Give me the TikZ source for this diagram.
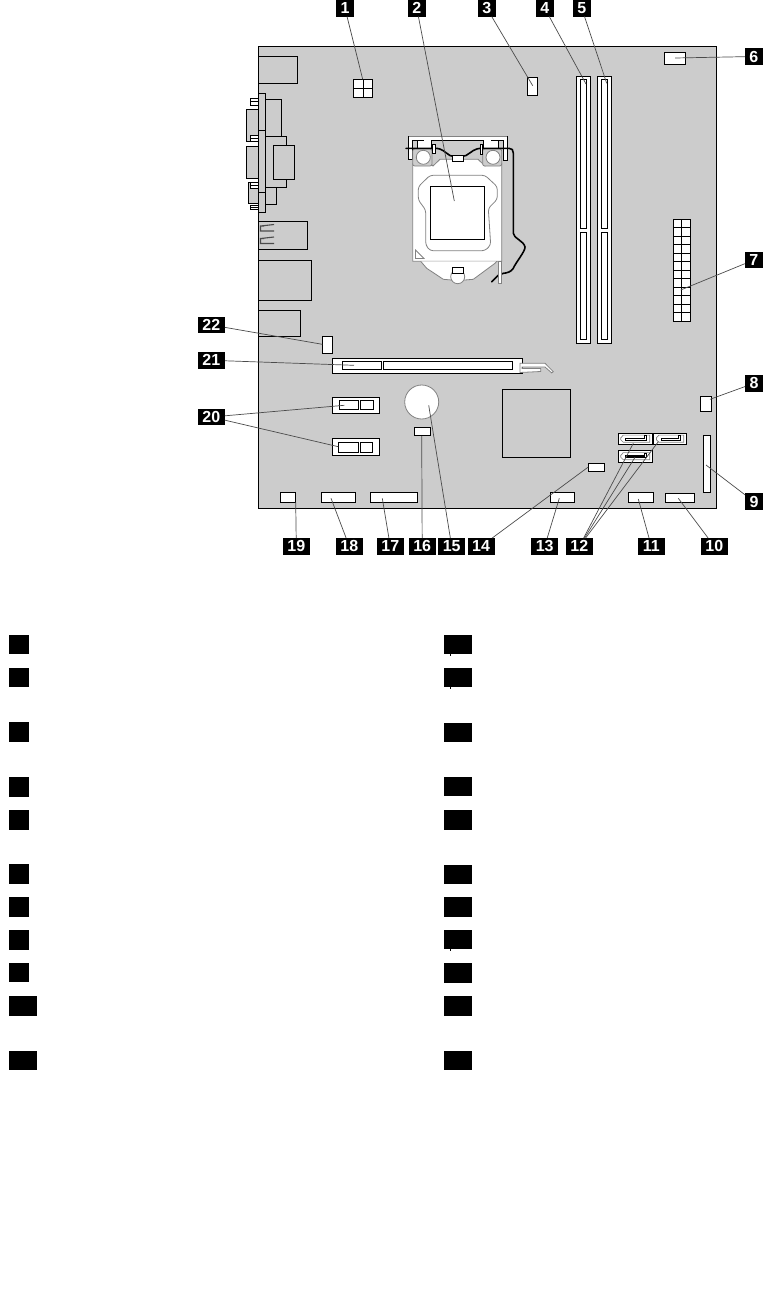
\documentclass[tikz,border=0pt]{standalone}
\usepackage{fontspec}
\setmainfont{Liberation Sans}
\usepackage{xcolor}
\usetikzlibrary{positioning,calc}
\definecolor{boardgrey}{RGB}{204,204,204}
\definecolor{edgegrey}{RGB}{130,130,130}
\definecolor{leadgrey}{RGB}{75,75,75}

\begin{document}
\begin{tikzpicture}[x=1pt, y=-1pt,
    part/.style={draw=black, fill=white, line width=1pt},
    flat/.style={draw=black, fill=boardgrey, line width=1pt},
    soft/.style={draw=edgegrey, fill=white, line width=0.8pt},
    lever/.style={draw=black, line width=1.6pt, line cap=round, line join=round},
    leader/.style={draw=leadgrey, line width=0.7pt},
    badge/.style={rectangle, fill=black, text=white, inner sep=0pt, outer sep=0pt,
        minimum width=18pt, minimum height=16.5pt, font=\fontsize{16}{16}\selectfont\bfseries},
    widebadge/.style={badge, minimum width=27pt},
    blank/.style={rectangle, fill=black, inner sep=0pt, outer sep=0pt, anchor=north west}]
    \useasboundingbox (0,0) rectangle (763,1290);

    % Board and rear ports
    \draw[flat] (246,109.3) rectangle (258.3,141.7);
    \draw[flat] (246,146) rectangle (258.3,178.3);
    \draw[flat] (248.3,182.3) rectangle (258.3,203.3);
    \foreach \ya/\yb in {98.3/105,135.3/141,182.7/188.7,205/209.3} {
        \fill[white] (250,\ya) rectangle (258,\yb);
        \draw[black, line width=0.8pt] (250,\ya) -- (258,\ya) (250,{(\ya+\yb)/2}) -- (258,{(\ya+\yb)/2}) (250,\yb) -- (258,\yb) (250,\ya) -- (250,\yb);
    }
    \draw[flat] (258.5,46.5) rectangle (716.7,508);
    \foreach \xa/\ya/\xb/\yb in {258.5/56.3/297.3/83.3, 265.7/99.3/281.7/136.7, 265.7/136.7/286.7/187.7,
        273.3/145.3/294.7/179.3, 265.7/187.7/276.7/204.7, 258.5/93.3/265.7/212.7, 258.5/130/265.7/192.3,
        258.5/221.3/307.7/249.3, 258.5/260.3/311.7/300.3, 258.5/310.3/300.3/336.3, 502.3/389.3/570.7/457.3} {
        \draw[flat] (\xa,\ya) rectangle (\xb,\yb);
    }
    \foreach \uy in {226,238.5} {
        \draw[leadgrey, line width=1.1pt] (264,\uy+5) -- (260.5,\uy+5) -- (260.5,\uy) -- (264,\uy)
            (260.5,\uy) -- (274,\uy-1.5) (260.5,\uy+5) -- (274,\uy+5);
    }

    % CPU socket
    \fill[white] (408.3,136) rectangle (507.7,140.7) (417.3,140) rectangle (431.7,148) (483.3,140) rectangle (498,148)
        (408.3,136) rectangle (412.3,159.3) (503.3,136) rectangle (507.7,160.7);
    \draw[edgegrey, line width=0.8pt] (408.3,136) -- (507.7,136);
    \draw[black, line width=1pt] (507.7,136) -- (507.7,160.7) -- (503.3,160.7) -- (503.3,140.7) -- (491,140.7)
        (498,140.7) -- (498,148)
        (408.3,136) -- (408.3,159.3) -- (412.3,159.3) -- (412.3,140.7) -- (424,140.7)
        (417.3,140.7) -- (417.3,148)
        (431.7,148) -- (431.7,140.7) -- (483.3,140.7) -- (483.3,148);
    \draw[soft] (412.7,163.3) -- (430,163.3) -- (433,166) -- (440,159.3) -- (478,159.3) -- (485,166)
        -- (490,163.3) -- (501.7,163.3) -- (501.7,261.3) -- (412.7,261.3) -- cycle;
    \draw[soft] (420.7,261.3) -- (426.7,268.3) -- (443.3,279.3) -- (451.7,280) -- (465,280) -- (473.3,279.3)
        -- (495,263.3) -- (496.7,261.3);
    \draw[edgegrey, line width=0.8pt, rounded corners=3pt] (430,175.3) -- (485,175.3) -- (497.3,186.7) -- (497.3,199.3)
        -- (488.3,208.3) -- (490.7,245) -- (485,250.7) -- (430,250.7) -- (425.7,245) -- (425.7,210)
        -- (418.3,200) -- (418.3,186.7) -- cycle;
    \draw[part] (430.3,186.3) rectangle (484.7,239.3);
    \draw[edgegrey, fill=white, line width=0.8pt] (415.5,250) -- (424,258.5) -- (415.5,258.5) -- cycle;
    \draw[edgegrey, fill=boardgrey, line width=0.8pt, rounded corners=2pt] (412.7,149) rectangle (432,166);
    \draw[edgegrey, fill=boardgrey, line width=0.8pt, rounded corners=2pt] (482.7,149) rectangle (501.7,166);
    \foreach \cx/\cy in {423.3/157.3,493/157.3,457.7/276.7} {
        \draw[soft] (\cx,\cy) circle (7);
    }
    \draw[part] (452.3,267.7) rectangle (463.3,273.3);
    \draw[lever] (406,148.3) -- (435,148.3) .. controls (443,148.5) and (444,152) .. (450,155.5)
        .. controls (453,157) and (462,157) .. (466,155.5) .. controls (472,152) and (474,148.3) .. (482,148.3)
        -- (509,148.3) .. controls (512,148.3) and (513.3,150) .. (513.3,153) -- (513.3,233.3)
        .. controls (513.3,238) and (524,241) .. (525,247) .. controls (525.5,251) and (516,262) .. (513.3,268.3)
        .. controls (511,272) and (507,273) .. (503.3,273.3) -- (498,275.5) -- (491.7,281.7);
    \draw[part] (432.3,144.3) rectangle (435.3,153.3);
    \draw[part] (480.3,144.3) rectangle (482.6,154.3);
    \draw[part] (452.3,155.7) rectangle (463.3,161);
    \draw[soft] (498.3,261.3) rectangle (501.7,283.3);

    % Memory slots
    \foreach \sx in {576.3,597.3} {
        \draw[part] (\sx,76.3) rectangle ++(14.4,267);
        \draw[part] (\sx+4,79.3) rectangle (\sx+10.4,228.7);
        \draw[part] (\sx+4,232.3) rectangle (\sx+10.4,339.3);
    }

    % Headers and small connectors
    \foreach \xa/\ya/\xb/\yb in {353.3/79.3/372.7/97.3, 527.3/77.3/537.7/95.7, 664.3/52.3/685.7/64.7,
        673.3/219.3/690.7/321.3, 322.3/336.3/332.7/353.3, 700.3/396/711.7/411.3, 703.3/435.3/710.7/492.7,
        665.3/493.3/694.7/502.7, 628.3/492.3/653.7/502.7, 550.3/492.3/574.7/502.7, 588.3/463.3/604.7/471.7,
        414.3/427/430.7/435.7, 370.3/492.3/417.7/502.3, 321.3/492.3/355.7/502.3, 280.3/492.3/295.7/502.3} {
        \draw[part] (\xa,\ya) rectangle (\xb,\yb);
    }
    \draw[black, line width=1pt] (363,79.3) -- (363,97.3) (353.3,88.3) -- (372.7,88.3) (681.9,219.3) -- (681.9,321.3);
    \foreach \i in {1,...,11} {
        \draw[black, line width=1pt] (673.3,219.3+8.5*\i) -- (690.7,219.3+8.5*\i);
    }

    % Expansion slots
    \draw[part] (332.3,358.3) rectangle (522.7,373.5);
    \draw[part] (342.3,361.3) rectangle (381.7,369.7);
    \draw[part] (383.3,361.3) rectangle (512.7,369.7);
    \draw[soft] (520,363.3) -- (545,363.3) -- (553.3,371.7) -- (551.7,372.9) -- (545,367) -- (522,367) -- (522,368.5)
        -- (540.7,368.5) -- (540.7,371.5) -- (520,372.5) -- cycle;
    \foreach \py/\pq/\pa/\pb/\pc/\pd in {397.3/413.7/339.3/358.7/373.7/400, 438.3/455.3/338.3/358.7/372.7/442.3} {
        \draw[part] (332.3,\py) rectangle (379.7,\pq);
        \draw[part] (\pa,\pd) rectangle (\pb,\pd+9.7);
        \draw[part] (360.3,\pd) rectangle (\pc,\pd+9.7);
    }
    \draw[soft] (421.7,402) circle (17);

    % SATA ports
    \foreach \sx/\sy/\sw in {618.3/433.3/34.4, 653.9/433.3/32.8, 618.3/450.8/34.4} {
        \begin{scope}[shift={(\sx,\sy)}]
            \draw[part] (0,0) rectangle (\sw,11.3);
            \draw[edgegrey, line width=0.7pt] (5,1.8) -- (\sw-3,1.8) -- (\sw-3,9) -- (5,9) -- (2.5,6.5) -- (2.5,4.5) -- cycle;
            \draw[black, line width=1pt, fill=white] (7.5,5) -- (\sw-8,5) -- (\sw-8,2.5) -- (\sw-6.5,2.5) -- (\sw-6.5,7) -- (7.5,7) -- cycle;
        \end{scope}
    }
    \draw[black, line width=1.6pt] (653.2,433.3) -- (653.2,444.6);
    \draw[black, line width=1.6pt] (627,457) -- (645,457);

    % Leader ends
    \foreach \n/\x/\y in {p1/362.7/79.3, p2/454.3/201, p3/532.7/85.7, p4/586/84, p5/606.7/83.3, p6/675/58,
        p7/680.7/290, p8/710/399.3, p9/706/465, p10/678.3/498.3, p11/638.3/499, p12a/633.3/443.3,
        p12b/635/457.3, p12c/658.3/441.7, p13/559.3/498.3, p14/588.3/467, p15/428.7/405.3, p16/421.7/436,
        p17/382.3/498.3, p18/331/498.3, p19/295.7/502.3, p20a/344.3/405.3, p20b/338.3/446.7,
        p21/354/365.3, p22/322.3/344.3} {
        \coordinate (\n) at (\x,\y);
    }

    % Number tags
    \foreach \n/\x/\y in {1/345/8.3, 2/416.8/8.3, 3/486.8/8.3, 4/544.8/8.3, 5/581.8/8.3, 6/753.8/56.5,
        7/753.8/260, 8/754/383.3, 9/754/501.7} {
        \node[badge] (tag\n) at (\x,\y) {\n};
    }
    \foreach \n/\x/\y in {10/714.3/546.3, 11/651.3/546.3, 12/579.3/546.3, 13/544.7/546.3, 14/481/546.3,
        15/451.7/546.3, 16/422.2/546.3, 17/390.3/546.3, 18/349.3/546.3, 19/296.3/546.3,
        20/211.3/417, 21/211.3/360.3, 22/211.3/325} {
        \node[widebadge] (tag\n) at (\x,\y) {\n};
    }
    \foreach \t/\p in {1/p1, 2/p2, 3/p3, 4/p4, 5/p5, 6/p6, 7/p7, 8/p8, 9/p9, 10/p10, 11/p11, 12/p12a, 12/p12b,
        12/p12c, 13/p13, 14/p14, 15/p15, 16/p16, 17/p17, 18/p18, 19/p19, 20/p20a, 20/p20b, 21/p21, 22/p22} {
        \draw[leader] (tag\t) -- (\p);
    }

    % Legend boxes
    \foreach \n/\x/\y/\w/\h in {a/9/635/20/19, b/9/668/20/19, c/9/722/20/20, d/9/777/20/20, e/9/810/20/20,
        f/9/864/20/20, g/9/897/20/20, h/9/930/20/20, i/9/963/20/19, j/9/996/28/20, k/9/1051/28/19,
        l/444/635/28/19, m/444/668/28/19, n/444/723/28/19, o/444/777/28/19, q/444/810/28/20,
        r/444/865/28/19, s/444/897/28/20, t/444/930/28/19, u/444/963/28/20, v/444/996/28/20, w/444/1051/28/19} {
        \node[blank, minimum width=\w pt, minimum height=\h pt] (key\n) at (\x,\y) {};
    }
    \foreach \ty in {654,687,949} {
        \fill[black] (449.5,\ty) rectangle (450.5,\ty+1.5);
    }
\end{tikzpicture}
\end{document}
